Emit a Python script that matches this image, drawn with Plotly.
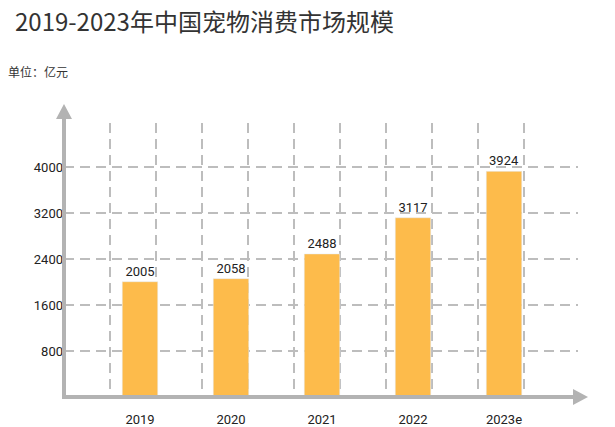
import plotly.graph_objects as go

years = ["2019", "2020", "2021", "2022", "2023e"]
values = [2005, 2058, 2488, 3117, 3924]
y_ticks = [800, 1600, 2400, 3200, 4000]
title_text = "2019-2023年中国宠物消费市场规模"
unit_text = "单位：亿元"

W, H = 615, 427
L, R, T, B = 64, 578, 123, 397  # plot area in px

def px(x):
    return (x - L) / (R - L)

def py(y):
    return (B - y) / (B - T)

num_font = "Roboto, Noto Sans"
bar_color = "#FDBB4B"
axis_color = "#B3B3B3"
grid_color = "#BDBDBD"

fig = go.Figure()
fig.add_trace(go.Bar(
    x=years, y=values, marker_color=bar_color, width=0.39,
    text=[str(v) for v in values], textposition="outside",
    textfont=dict(family=num_font, size=13, color="#222"),
    cliponaxis=False, xaxis="x", yaxis="y",
))
fig.add_trace(go.Scatter(x=[0, 514], y=[0, 0], mode="markers",
                         marker=dict(opacity=0), xaxis="x2", yaxis="y",
                         hoverinfo="skip", showlegend=False))

fig.update_layout(
    width=W, height=H,
    margin=dict(l=L, r=W - R, t=T, b=H - B, autoexpand=False),
    paper_bgcolor="white", plot_bgcolor="white",
    showlegend=False,
    xaxis=dict(type="category", range=[-0.835, 4.813], showgrid=False, automargin=False,
               showline=False, zeroline=False, ticks="outside", ticklen=10,
               tickcolor="rgba(0,0,0,0)",
               tickfont=dict(family=num_font, size=13, color="#222")),
    xaxis2=dict(overlaying="x", range=[0, 514], tickvals=[46 * k for k in range(1, 11)],
                showticklabels=False, showgrid=True, gridcolor=grid_color, automargin=False,
                gridwidth=2, griddash="10px,6px", zeroline=False, showline=False,
                side="bottom"),
    yaxis=dict(range=[0, 4765], tickvals=y_ticks, showgrid=True, automargin=False,
               gridcolor=grid_color, gridwidth=2, griddash="10px,6px",
               zeroline=False, showline=False, ticks="",
               tickfont=dict(family=num_font, size=13, color="#222")),
    font=dict(family="Noto Sans CJK SC"),
)

shapes = [
    dict(type="line", xref="paper", yref="paper", x0=px(64), y0=py(397), x1=px(64), y1=py(116),
         line=dict(color=axis_color, width=4)),
    dict(type="path", xref="paper", yref="paper",
         path=f"M {px(56)},{py(119)} L {px(64)},{py(104)} L {px(72)},{py(119)} Z",
         fillcolor=axis_color, line=dict(color=axis_color, width=0)),
    dict(type="line", xref="paper", yref="paper", x0=px(62), y0=py(397), x1=px(575), y1=py(397),
         line=dict(color=axis_color, width=4)),
    dict(type="path", xref="paper", yref="paper",
         path=f"M {px(573)},{py(389)} L {px(588)},{py(397)} L {px(573)},{py(405)} Z",
         fillcolor=axis_color, line=dict(color=axis_color, width=0)),
]
fig.update_layout(shapes=shapes)

fig.add_annotation(text=title_text, xref="paper", yref="paper",
                   x=px(13), y=py(1), xanchor="left", yanchor="top", showarrow=False,
                   font=dict(family="Noto Sans CJK SC", size=24, color="#333"))
fig.add_annotation(text=unit_text, xref="paper", yref="paper",
                   x=px(6), y=py(71), xanchor="left", yanchor="middle", showarrow=False,
                   font=dict(family="Noto Sans CJK SC", size=12, color="#333"))

fig.write_html("out.html", config={"displayModeBar": False},
               post_script="document.body.style.margin='0px';")
